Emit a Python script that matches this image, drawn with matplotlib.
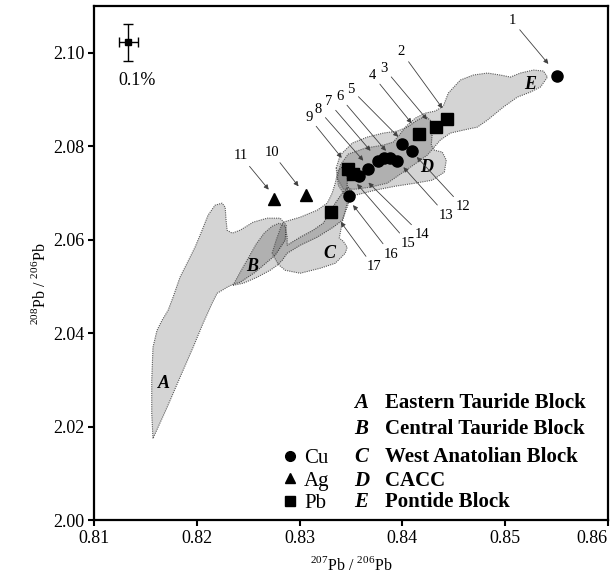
import matplotlib
matplotlib.use("Agg")
import matplotlib.pyplot as plt
from matplotlib.patches import Polygon
from matplotlib.lines import Line2D
import numpy as np

plt.rcParams['font.family'] = ['Liberation Serif', 'DejaVu Serif']
plt.rcParams['mathtext.fontset'] = 'custom'
plt.rcParams['mathtext.rm'] = 'Liberation Serif'

# --- data -------------------------------------------------------------
cu_x = [0.8550, 0.8400, 0.8409, 0.8395, 0.8388, 0.8382, 0.8376, 0.8367, 0.8358, 0.8348]
cu_y = [2.0950, 2.0804, 2.0790, 2.0769, 2.0775, 2.0774, 2.0769, 2.0752, 2.0736, 2.0693]

ag_x = [0.8275, 0.8306]
ag_y = [2.0688, 2.0695]

pb_x = [0.8443, 0.8433, 0.8416, 0.8347, 0.8352, 0.8331]
pb_y = [2.0859, 2.0840, 2.0826, 2.0752, 2.0740, 2.0659]

# sample numbers: label position and the point each arrow goes to
num_labels = ['1', '2', '3', '4', '5', '6', '7', '8', '9', '10', '11',
              '12', '13', '14', '15', '16', '17']
num_text_x = [0.8507, 0.8399, 0.8382, 0.8371, 0.8350, 0.8339, 0.8328, 0.8318, 0.8309,
              0.8273, 0.8243, 0.8459, 0.8443, 0.8419, 0.8406, 0.8389, 0.8372]
num_text_y = [2.1068, 2.1002, 2.0967, 2.0952, 2.0922, 2.0906, 2.0895, 2.0879, 2.0862,
              2.0787, 2.0779, 2.0670, 2.0652, 2.0610, 2.0592, 2.0569, 2.0542]
num_tip_x = [0.8542, 0.8439, 0.8424, 0.8409, 0.8396, 0.8384, 0.8369, 0.8362, 0.8341,
             0.8299, 0.8270, 0.8414, 0.8401, 0.8367, 0.8356, 0.8352, 0.8340]
num_tip_y = [2.0976, 2.0881, 2.0857, 2.0849, 2.0820, 2.0790, 2.0790, 2.0769, 2.0775,
             2.0714, 2.0707, 2.0777, 2.0755, 2.0722, 2.0719, 2.0674, 2.0638]

# crustal block fields (outlines)
field_A = [(0.81574, 2.01746), (0.81562, 2.02282), (0.81562, 2.02988), (0.81574, 2.03695),
           (0.81613, 2.04058), (0.81662, 2.04273), (0.81721, 2.04487), (0.81769, 2.04766),
           (0.81837, 2.05195), (0.81906, 2.05495), (0.81983, 2.05837), (0.82052, 2.06202),
           (0.82110, 2.06523), (0.82178, 2.06737), (0.82246, 2.06780), (0.82276, 2.06695),
           (0.82285, 2.06416), (0.82295, 2.06202), (0.82344, 2.06138), (0.82422, 2.06202),
           (0.82548, 2.06373), (0.82685, 2.06459), (0.82811, 2.06459), (0.82870, 2.06309),
           (0.82860, 2.05988), (0.82762, 2.05666), (0.82568, 2.05302), (0.82422, 2.05088),
           (0.82353, 2.05045), (0.82295, 2.04981), (0.82198, 2.04852), (0.82149, 2.04638),
           (0.82061, 2.04209), (0.81964, 2.03695), (0.81837, 2.03053), (0.81711, 2.02410)]
field_B = [(0.82353, 2.05024), (0.82422, 2.05302), (0.82500, 2.05602), (0.82577, 2.05902),
           (0.82655, 2.06137), (0.82733, 2.06287), (0.82801, 2.06352), (0.82860, 2.06287),
           (0.82879, 2.06052), (0.82879, 2.05880), (0.83006, 2.06052), (0.83132, 2.06202),
           (0.83230, 2.06352), (0.83278, 2.06523), (0.83347, 2.06780), (0.83415, 2.06994),
           (0.83473, 2.07123), (0.83512, 2.07037), (0.83463, 2.06694), (0.83415, 2.06416),
           (0.83327, 2.06266), (0.83171, 2.06052), (0.83006, 2.05880), (0.82879, 2.05709),
           (0.82831, 2.05559), (0.82782, 2.05452), (0.82714, 2.05345), (0.82587, 2.05195),
           (0.82451, 2.05066)]
field_C = [(0.82733, 2.05709), (0.82772, 2.05987), (0.82821, 2.06287), (0.82840, 2.06373),
           (0.83006, 2.06480), (0.83171, 2.06630), (0.83269, 2.06780), (0.83317, 2.06994),
           (0.83347, 2.07209), (0.83376, 2.07487), (0.83425, 2.07573), (0.83463, 2.07316),
           (0.83463, 2.06780), (0.83415, 2.06373), (0.83386, 2.06030), (0.83425, 2.05966),
           (0.83463, 2.05837), (0.83444, 2.05709), (0.83347, 2.05495), (0.83201, 2.05388),
           (0.83006, 2.05281), (0.82860, 2.05345), (0.82792, 2.05473)]
field_D = [(0.83356, 2.07530), (0.83395, 2.07808), (0.83512, 2.08065), (0.83658, 2.08194),
           (0.83814, 2.08280), (0.83950, 2.08322), (0.84048, 2.08408), (0.84145, 2.08558),
           (0.84223, 2.08644), (0.84281, 2.08537), (0.84291, 2.08301), (0.84281, 2.08023),
           (0.84311, 2.07915), (0.84388, 2.07873), (0.84427, 2.07701), (0.84408, 2.07444),
           (0.84291, 2.07273), (0.84126, 2.07209), (0.83931, 2.07144), (0.83736, 2.07059),
           (0.83541, 2.06951), (0.83444, 2.06930), (0.83376, 2.07166)]
field_E = [(0.83366, 2.07316), (0.83395, 2.07594), (0.83473, 2.07830), (0.83639, 2.07958),
           (0.83814, 2.08023), (0.83911, 2.08087), (0.83970, 2.08237), (0.84038, 2.08430),
           (0.84126, 2.08601), (0.84223, 2.08708), (0.84320, 2.08751), (0.84398, 2.08858),
           (0.84447, 2.09136), (0.84564, 2.09415), (0.84690, 2.09522), (0.84827, 2.09565),
           (0.84953, 2.09522), (0.85051, 2.09479), (0.85148, 2.09565), (0.85275, 2.09629),
           (0.85372, 2.09608), (0.85411, 2.09479), (0.85343, 2.09265), (0.85245, 2.09158),
           (0.85119, 2.09051), (0.84982, 2.08837), (0.84827, 2.08558), (0.84729, 2.08408),
           (0.84593, 2.08344), (0.84466, 2.08280), (0.84369, 2.08130), (0.84242, 2.07808),
           (0.84106, 2.07594), (0.83980, 2.07401), (0.83853, 2.07209), (0.83687, 2.07123),
           (0.83541, 2.07080), (0.83425, 2.07080)]

field_letters = ['A', 'B', 'C', 'D', 'E']
field_letter_x = [0.8168, 0.8254, 0.8329, 0.8424, 0.8524]
field_letter_y = [2.0292, 2.0543, 2.0570, 2.0755, 2.0932]
block_names = ['Eastern Tauride Block', 'Central Tauride Block',
               'West Anatolian Block', 'CACC', 'Pontide Block']

err_x, err_y = 0.81334, 2.10223
err_dx, err_dy = 0.0009, 0.0040

# --- figure -----------------------------------------------------------
fig = plt.figure(figsize=(6.15, 5.82), dpi=100)
ax = fig.add_axes([0.1528, 0.1065, 0.8358, 0.8832])

for pts in [field_A, field_B, field_C, field_D, field_E]:
    ax.add_patch(Polygon(pts, closed=True, facecolor=(0, 0, 0, 0.17),
                         edgecolor='0.35', lw=0.8, ls=(0, (1, 1)), zorder=1))

for lab, x, y in zip(field_letters, field_letter_x, field_letter_y):
    ax.text(x, y, lab, fontsize=13, style='italic', weight='bold',
            ha='center', va='center', zorder=3)

ax.plot(cu_x, cu_y, 'o', color='k', ms=8, zorder=4)
ax.plot(ag_x, ag_y, '^', color='k', ms=8, zorder=4)
ax.plot(pb_x, pb_y, 's', color='k', ms=8, zorder=5)

for lab, tx, ty, px, py in zip(num_labels, num_text_x, num_text_y, num_tip_x, num_tip_y):
    ax.annotate(lab, xy=(px, py), xytext=(tx, ty), fontsize=10.5,
                ha='center', va='center', zorder=6,
                arrowprops=dict(arrowstyle='-|>', color='0.25', lw=0.6,
                                mutation_scale=7, shrinkA=1, shrinkB=0))

# analytical uncertainty
ax.errorbar([err_x], [err_y], xerr=[err_dx], yerr=[err_dy], fmt='s', color='k',
            ms=5, capsize=3.5, elinewidth=1, capthick=1, zorder=5)
ax.text(err_x + 0.0009, err_y - 0.0081, '0.1%', fontsize=13, ha='center', va='center')

# legends
handles = [Line2D([], [], marker='o', ls='', color='k', ms=7),
           Line2D([], [], marker='^', ls='', color='k', ms=7),
           Line2D([], [], marker='s', ls='', color='k', ms=7)]
ax.legend(handles, ['Cu', 'Ag', 'Pb'], loc='lower left', bbox_to_anchor=(0.34, -0.015),
          frameon=False, fontsize=15, handlelength=0.6, handletextpad=0.4,
          labelspacing=0.14, borderpad=0.2)

row_y = [0.2281, 0.1774, 0.1226, 0.0758, 0.0350]
for lab, name, yy in zip(field_letters, block_names, row_y):
    ax.text(0.520, yy, lab, transform=ax.transAxes, fontsize=15, style='italic',
            weight='bold', ha='center', va='center')
    ax.text(0.566, yy, name, transform=ax.transAxes, fontsize=15, weight='bold',
            ha='left', va='center')

ax.set_xlim(0.81, 0.86)
ax.set_ylim(2.00, 2.11)
ax.set_xticks(np.arange(0.81, 0.8601, 0.01))
ax.set_yticks(np.arange(2.00, 2.1001, 0.02))
ax.xaxis.set_major_formatter(matplotlib.ticker.FormatStrFormatter('%.2f'))
ax.yaxis.set_major_formatter(matplotlib.ticker.FormatStrFormatter('%.2f'))
ax.tick_params(direction='out', length=4, width=1.5, labelsize=13, pad=3)
for s in ax.spines.values():
    s.set_linewidth(1.6)

# last x tick label sits inside the right edge
fig.canvas.draw()
ax.get_xticklabels()[-1].set_horizontalalignment('right')

ax.set_xlabel(r'$^{207}$Pb / $^{206}$Pb', fontsize=11.5, labelpad=7)
ax.set_ylabel(r'$^{208}$Pb / $^{206}$Pb', fontsize=11.5)
ax.yaxis.set_label_coords(-0.088, 0.46)

fig.savefig('out.png', dpi=100)
